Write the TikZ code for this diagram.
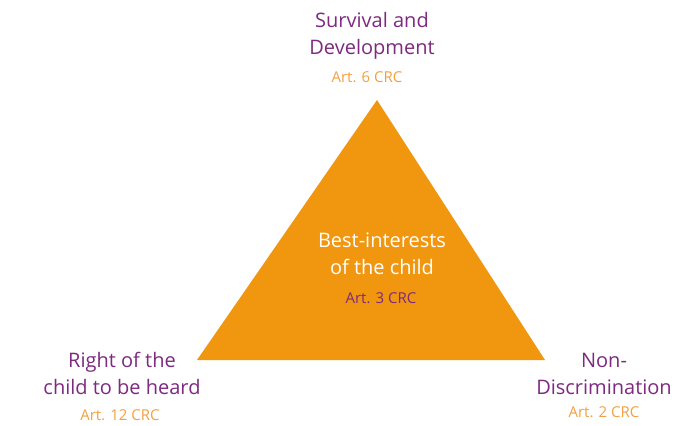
\documentclass[tikz,border=0pt]{standalone}
\usepackage{fontspec}
\setmainfont{Open Sans}
\definecolor{tri}{HTML}{F0960F}
\definecolor{plum}{HTML}{7E2A80}
\definecolor{apricot}{HTML}{F4A040}
\begin{document}
\begin{tikzpicture}[x=1pt,y=-1pt,
  title/.style={font=\fontsize{20}{27}\selectfont, text=plum, align=center, inner sep=0pt},
  inner/.style={font=\fontsize{20}{27}\selectfont, text=white, align=center, inner sep=0pt},
  article/.style={font=\fontsize{15}{18}\selectfont, text=apricot, inner sep=0pt}]
  \useasboundingbox[fill=white] (0,0) rectangle (686,426);
  % central triangle
  \coordinate (apex) at (377,100);
  \coordinate (bl) at (197,360);
  \coordinate (br) at (545,360);
  \fill[tri] (apex) -- (br) -- (bl) -- cycle;
  % top corner
  \node[title] (surv) at (372,36) {Survival and\\Development};
  \node[article] (a6) at (367,77) {Art. 6 CRC};
  % centre
  \node[inner] (best) at (382,254) {Best-interests\\of the child};
  \node[article, text=plum] (a3) at (381,298) {Art. 3 CRC};
  % bottom left corner
  \node[title] (heard) at (122,373) {Right of the\\child to be heard};
  \node[article] (a12) at (120,415) {Art. 12 CRC};
  % bottom right corner
  \node[title] (nondisc) at (604,374) {Non-\\Discrimination};
  \node[article] (a2) at (604,412) {Art. 2 CRC};
\end{tikzpicture}
\end{document}
